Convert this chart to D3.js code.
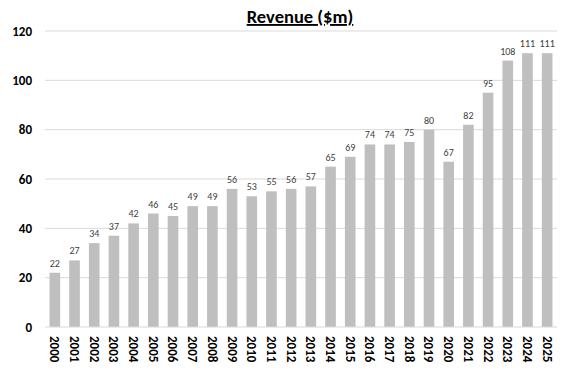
<!DOCTYPE html>
<html>
<head>
<meta charset="utf-8">
<script src="https://cdn.jsdelivr.net/npm/d3@7"></script>
<style>
  body { margin: 0; background: #fff; }
  text { font-family: Carlito, Lato, "Open Sans", sans-serif; }
</style>
</head>
<body>
<svg id="chart" width="571" height="370"></svg>
<script>
const years = ['2000','2001','2002','2003','2004','2005','2006','2007','2008','2009','2010','2011','2012',
  '2013','2014','2015','2016','2017','2018','2019','2020','2021','2022','2023','2024','2025'];
const revenue = [22,27,34,37,42,46,45,49,49,56,53,55,56,57,65,69,74,74,75,80,67,82,95,108,111,111];
const yTicks = [0,20,40,60,80,100,120];

const svg = d3.select('#chart');
const plotLeft = 45, plotRight = 557, plotTop = 31, plotBottom = 327;

const x = d3.scaleBand().domain(years).range([plotLeft, plotRight]).paddingInner(0.46).paddingOuter(0.23);
const y = d3.scaleLinear().domain([0, 120]).range([plotBottom, plotTop]);

// gridlines
svg.append('g')
  .selectAll('line')
  .data(yTicks.slice(1))
  .enter().append('line')
    .attr('x1', plotLeft).attr('x2', plotRight)
    .attr('y1', d => y(d)).attr('y2', d => y(d))
    .attr('stroke', '#d9d9d9').attr('stroke-width', 1);

// y axis labels
const yAxis = svg.append('g')
  .attr('transform', `translate(${plotLeft},0)`)
  .call(d3.axisLeft(y).tickValues(yTicks).tickSize(0).tickPadding(13));
yAxis.select('.domain').remove();
yAxis.selectAll('text')
  .attr('font-size', 13).attr('font-weight', 'bold').attr('fill', '#000');

// bars
svg.append('g')
  .selectAll('rect')
  .data(revenue)
  .enter().append('rect')
    .attr('x', (d, i) => x(years[i]))
    .attr('y', d => y(d))
    .attr('width', x.bandwidth())
    .attr('height', d => y(0) - y(d))
    .attr('fill', '#bfbfbf');

// value labels
svg.append('g')
  .selectAll('text')
  .data(revenue)
  .enter().append('text')
    .attr('x', (d, i) => x(years[i]) + x.bandwidth() / 2)
    .attr('y', d => y(d) - 6)
    .attr('text-anchor', 'middle')
    .attr('font-size', 10)
    .attr('fill', '#404040')
    .text(d => d);

// baseline
svg.append('line')
  .attr('x1', plotLeft).attr('x2', plotRight)
  .attr('y1', y(0)).attr('y2', y(0))
  .attr('stroke', '#d9d9d9');

// x axis labels
const xAxis = svg.append('g')
  .attr('transform', `translate(0,${plotBottom})`)
  .call(d3.axisBottom(x).tickSize(0).tickPadding(0));
xAxis.select('.domain').remove();
xAxis.selectAll('text')
  .attr('transform', 'rotate(90)')
  .attr('text-anchor', 'start')
  .attr('x', 9).attr('y', 0).attr('dy', '0.35em')
  .attr('font-size', 13).attr('font-weight', 'bold').attr('fill', '#000');

// title
svg.append('text')
  .attr('x', 300).attr('y', 23)
  .attr('text-anchor', 'middle')
  .attr('font-size', 18.5).attr('font-weight', 'bold')
  .attr('text-decoration', 'underline')
  .attr('fill', '#000')
  .text('Revenue ($m)');
</script>
</body>
</html>
